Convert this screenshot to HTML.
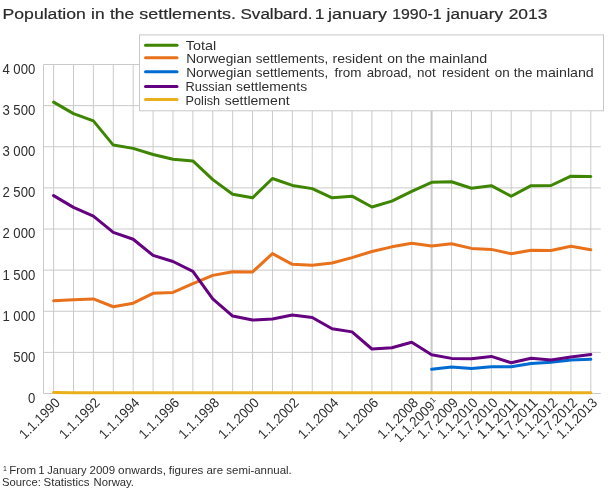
<!DOCTYPE html>
<html lang="en"><head><meta charset="utf-8"><title>Population in the settlements. Svalbard</title>
<style>html,body{margin:0;padding:0;background:#fff}svg{display:block}</style></head>
<body>
<svg width="610" height="488" viewBox="0 0 610 488" font-family="'Liberation Sans', Arial, sans-serif" fill="#2e2e2e">
<rect width="610" height="488" fill="#ffffff"/>
<path d="M43.5 64.50 H600.8 M43.5 105.62 H600.8 M43.5 146.75 H600.8 M43.5 187.88 H600.8 M43.5 229.00 H600.8 M43.5 270.12 H600.8 M43.5 311.25 H600.8 M43.5 352.38 H600.8 M43.5 393.50 H600.8 M53.60 64.5 V393.5 M73.50 64.5 V393.5 M93.39 64.5 V393.5 M113.29 64.5 V393.5 M133.18 64.5 V393.5 M153.08 64.5 V393.5 M172.98 64.5 V393.5 M192.87 64.5 V393.5 M212.77 64.5 V393.5 M232.66 64.5 V393.5 M252.56 64.5 V393.5 M272.46 64.5 V393.5 M292.35 64.5 V393.5 M312.25 64.5 V393.5 M332.14 64.5 V393.5 M352.04 64.5 V393.5 M371.94 64.5 V393.5 M391.83 64.5 V393.5 M411.73 64.5 V393.5 M451.52 64.5 V393.5 M471.42 64.5 V393.5 M491.31 64.5 V393.5 M511.21 64.5 V393.5 M531.10 64.5 V393.5 M551.00 64.5 V393.5 M570.90 64.5 V393.5 M590.79 64.5 V393.5 M43.5 64.5 V393.5" stroke="#cacaca" stroke-width="1" fill="none"/>
<path d="M431.62 64.5 V393.5" stroke="#c8c8c8" stroke-width="2" fill="none"/>
<path d="M53.60 102.17 L73.50 113.60 L93.39 120.92 L113.29 145.10 L133.18 148.39 L153.08 154.48 L172.98 159.33 L192.87 160.90 L212.77 179.65 L232.66 194.21 L252.56 197.83 L272.46 178.50 L292.35 185.41 L312.25 188.62 L332.14 197.83 L352.04 196.18 L371.94 207.04 L391.83 201.12 L411.73 191.33 L431.62 182.28 L451.52 181.71 L471.42 188.20 L491.31 185.65 L511.21 196.26 L531.10 185.65 L551.00 185.49 L570.90 176.20 L590.79 176.52" stroke="#3e8601" stroke-width="3" fill="none" stroke-linejoin="round" stroke-linecap="round"/>
<path d="M53.60 300.80 L73.50 299.82 L93.39 298.91 L113.29 306.73 L133.18 303.19 L153.08 293.32 L172.98 292.41 L192.87 283.53 L212.77 275.39 L232.66 271.69 L252.56 271.93 L272.46 253.59 L292.35 264.37 L312.25 265.19 L332.14 263.05 L352.04 257.62 L371.94 251.54 L391.83 246.85 L411.73 243.31 L431.62 246.03 L451.52 243.72 L471.42 248.41 L491.31 249.40 L511.21 253.67 L531.10 250.22 L551.00 250.55 L570.90 246.19 L590.79 249.81" stroke="#e9711c" stroke-width="3" fill="none" stroke-linejoin="round" stroke-linecap="round"/>
<path d="M431.62 369.24 L451.52 367.02 L471.42 368.41 L491.31 366.69 L511.21 366.85 L531.10 363.40 L551.00 362.33 L570.90 359.94 L590.79 359.37" stroke="#006cd1" stroke-width="3" fill="none" stroke-linejoin="round" stroke-linecap="round"/>
<path d="M53.60 195.61 L73.50 207.37 L93.39 216.17 L113.29 232.37 L133.18 239.28 L153.08 255.40 L172.98 261.49 L192.87 271.28 L212.77 298.91 L232.66 316.02 L252.56 320.05 L272.46 319.06 L292.35 315.03 L312.25 317.50 L332.14 328.77 L352.04 331.89 L371.94 349.00 L391.83 347.77 L411.73 342.26 L431.62 354.84 L451.52 358.38 L471.42 358.79 L491.31 356.41 L511.21 362.74 L531.10 358.30 L551.00 359.94 L570.90 356.90 L590.79 354.43" stroke="#650080" stroke-width="3" fill="none" stroke-linejoin="round" stroke-linecap="round"/>
<path d="M53.60 392.51 L73.50 392.68 L93.39 392.68 L113.29 392.68 L133.18 392.68 L153.08 392.68 L172.98 392.68 L192.87 392.68 L212.77 392.68 L232.66 392.68 L252.56 392.68 L272.46 392.68 L292.35 392.68 L312.25 392.68 L332.14 392.68 L352.04 392.68 L371.94 392.68 L391.83 392.84 L411.73 392.68 L431.62 392.68 L451.52 392.68 L471.42 392.68 L491.31 392.68 L511.21 392.84 L531.10 392.68 L551.00 392.68 L570.90 392.68 L590.79 392.68" stroke="#e9b01c" stroke-width="3" fill="none" stroke-linejoin="round" stroke-linecap="round"/>
<text x="2.4" y="73.9" font-size="14" textLength="32.9" lengthAdjust="spacingAndGlyphs">4 000</text>
<text x="2.4" y="115.0" font-size="14" textLength="32.9" lengthAdjust="spacingAndGlyphs">3 500</text>
<text x="2.4" y="156.1" font-size="14" textLength="32.9" lengthAdjust="spacingAndGlyphs">3 000</text>
<text x="2.4" y="197.3" font-size="14" textLength="32.9" lengthAdjust="spacingAndGlyphs">2 500</text>
<text x="2.4" y="238.4" font-size="14" textLength="32.9" lengthAdjust="spacingAndGlyphs">2 000</text>
<text x="2.4" y="279.5" font-size="14" textLength="32.9" lengthAdjust="spacingAndGlyphs">1 500</text>
<text x="2.4" y="320.6" font-size="14" textLength="32.9" lengthAdjust="spacingAndGlyphs">1 000</text>
<text x="13.3" y="361.8" font-size="14" textLength="22.0" lengthAdjust="spacingAndGlyphs">500</text>
<text x="28.0" y="402.9" font-size="14" textLength="7.3" lengthAdjust="spacingAndGlyphs">0</text>
<text transform="translate(60.90 403.60) rotate(-45)" x="-51" font-size="13.8" textLength="51" lengthAdjust="spacingAndGlyphs">1.1.1990</text>
<text transform="translate(100.69 403.60) rotate(-45)" x="-51" font-size="13.8" textLength="51" lengthAdjust="spacingAndGlyphs">1.1.1992</text>
<text transform="translate(140.48 403.60) rotate(-45)" x="-51" font-size="13.8" textLength="51" lengthAdjust="spacingAndGlyphs">1.1.1994</text>
<text transform="translate(180.28 403.60) rotate(-45)" x="-51" font-size="13.8" textLength="51" lengthAdjust="spacingAndGlyphs">1.1.1996</text>
<text transform="translate(220.07 403.60) rotate(-45)" x="-51" font-size="13.8" textLength="51" lengthAdjust="spacingAndGlyphs">1.1.1998</text>
<text transform="translate(259.86 403.60) rotate(-45)" x="-51" font-size="13.8" textLength="51" lengthAdjust="spacingAndGlyphs">1.1.2000</text>
<text transform="translate(299.65 403.60) rotate(-45)" x="-51" font-size="13.8" textLength="51" lengthAdjust="spacingAndGlyphs">1.1.2002</text>
<text transform="translate(339.44 403.60) rotate(-45)" x="-51" font-size="13.8" textLength="51" lengthAdjust="spacingAndGlyphs">1.1.2004</text>
<text transform="translate(379.24 403.60) rotate(-45)" x="-51" font-size="13.8" textLength="51" lengthAdjust="spacingAndGlyphs">1.1.2006</text>
<text transform="translate(419.03 403.60) rotate(-45)" x="-51" font-size="13.8" textLength="51" lengthAdjust="spacingAndGlyphs">1.1.2008</text>
<g transform="translate(438.92 403.60) rotate(-45)"> <text x="-55.6" y="0" font-size="13.8" textLength="51" lengthAdjust="spacingAndGlyphs">1.1.2009</text><text x="0.5" y="-4.6" font-size="8" text-anchor="end">1</text></g>
<text transform="translate(458.82 403.60) rotate(-45)" x="-51" font-size="13.8" textLength="51" lengthAdjust="spacingAndGlyphs">1.7.2009</text>
<text transform="translate(478.72 403.60) rotate(-45)" x="-51" font-size="13.8" textLength="51" lengthAdjust="spacingAndGlyphs">1.1.2010</text>
<text transform="translate(498.61 403.60) rotate(-45)" x="-51" font-size="13.8" textLength="51" lengthAdjust="spacingAndGlyphs">1.7.2010</text>
<text transform="translate(518.51 403.60) rotate(-45)" x="-51" font-size="13.8" textLength="51" lengthAdjust="spacingAndGlyphs">1.1.2011</text>
<text transform="translate(538.40 403.60) rotate(-45)" x="-51" font-size="13.8" textLength="51" lengthAdjust="spacingAndGlyphs">1.7.2011</text>
<text transform="translate(558.30 403.60) rotate(-45)" x="-51" font-size="13.8" textLength="51" lengthAdjust="spacingAndGlyphs">1.1.2012</text>
<text transform="translate(578.20 403.60) rotate(-45)" x="-51" font-size="13.8" textLength="51" lengthAdjust="spacingAndGlyphs">1.7.2012</text>
<text transform="translate(598.09 403.60) rotate(-45)" x="-51" font-size="13.8" textLength="51" lengthAdjust="spacingAndGlyphs">1.1.2013</text>
<rect x="139.5" y="34.9" width="464" height="75.9" fill="#ffffff" stroke="#c8c8c8" stroke-width="1"/>
<path d="M145.5 45.20 H177" stroke="#3e8601" stroke-width="3" stroke-linecap="round"/>
<path d="M145.5 57.80 H177" stroke="#e9711c" stroke-width="3" stroke-linecap="round"/>
<path d="M145.5 71.70 H177" stroke="#006cd1" stroke-width="3" stroke-linecap="round"/>
<path d="M145.5 86.50 H177" stroke="#650080" stroke-width="3" stroke-linecap="round"/>
<path d="M145.5 99.45 H177" stroke="#e9b01c" stroke-width="3" stroke-linecap="round"/>
<text x="3" y="470.5" font-size="7">1</text>
<text y="19.00" font-size="15.5" fill="#2a2a2a" stroke="#2a2a2a" stroke-width="0.2"><tspan x="2.59" textLength="83.24" lengthAdjust="spacingAndGlyphs">Population</tspan> <tspan x="91.05" textLength="13.54" lengthAdjust="spacingAndGlyphs">in</tspan> <tspan x="109.93" textLength="24.19" lengthAdjust="spacingAndGlyphs">the</tspan> <tspan x="139.25" textLength="96.62" lengthAdjust="spacingAndGlyphs">settlements.</tspan> <tspan x="240.53" textLength="71.96" lengthAdjust="spacingAndGlyphs">Svalbard.</tspan> <tspan x="314.81" textLength="9.68" lengthAdjust="spacingAndGlyphs">1</tspan> <tspan x="328.05" textLength="58.85" lengthAdjust="spacingAndGlyphs">january</tspan> <tspan x="392.21" textLength="49.32" lengthAdjust="spacingAndGlyphs">1990-1</tspan> <tspan x="446.63" textLength="56.37" lengthAdjust="spacingAndGlyphs">january</tspan> <tspan x="508.67" textLength="38.71" lengthAdjust="spacingAndGlyphs">2013</tspan></text>
<text y="50.00" font-size="13.2" ><tspan x="185.81" textLength="30.28" lengthAdjust="spacingAndGlyphs">Total</tspan></text>
<text y="62.75" font-size="13.2" ><tspan x="186.20" textLength="65.43" lengthAdjust="spacingAndGlyphs">Norwegian</tspan> <tspan x="255.76" textLength="72.42" lengthAdjust="spacingAndGlyphs">settlements,</tspan> <tspan x="332.59" textLength="49.85" lengthAdjust="spacingAndGlyphs">resident</tspan> <tspan x="387.19" textLength="15.41" lengthAdjust="spacingAndGlyphs">on</tspan> <tspan x="406.00" textLength="19.25" lengthAdjust="spacingAndGlyphs">the</tspan> <tspan x="429.27" textLength="58.00" lengthAdjust="spacingAndGlyphs">mainland</tspan></text>
<text y="76.60" font-size="13.2" ><tspan x="186.20" textLength="65.43" lengthAdjust="spacingAndGlyphs">Norwegian</tspan> <tspan x="255.76" textLength="72.42" lengthAdjust="spacingAndGlyphs">settlements,</tspan> <tspan x="334.47" textLength="26.86" lengthAdjust="spacingAndGlyphs">from</tspan> <tspan x="366.67" textLength="45.00" lengthAdjust="spacingAndGlyphs">abroad,</tspan> <tspan x="417.10" textLength="18.67" lengthAdjust="spacingAndGlyphs">not</tspan> <tspan x="442.14" textLength="47.20" lengthAdjust="spacingAndGlyphs">resident</tspan> <tspan x="494.72" textLength="14.94" lengthAdjust="spacingAndGlyphs">on</tspan> <tspan x="513.69" textLength="18.67" lengthAdjust="spacingAndGlyphs">the</tspan> <tspan x="536.08" textLength="57.69" lengthAdjust="spacingAndGlyphs">mainland</tspan></text>
<text y="90.70" font-size="13.2" ><tspan x="185.57" textLength="46.31" lengthAdjust="spacingAndGlyphs">Russian</tspan> <tspan x="236.05" textLength="71.03" lengthAdjust="spacingAndGlyphs">settlements</tspan></text>
<text y="104.60" font-size="13.2" ><tspan x="185.59" textLength="34.49" lengthAdjust="spacingAndGlyphs">Polish</tspan> <tspan x="224.75" textLength="64.89" lengthAdjust="spacingAndGlyphs">settlement</tspan></text>
<text y="474.20" font-size="11" ><tspan x="9.20" textLength="26.80" lengthAdjust="spacingAndGlyphs">From</tspan> <tspan x="38.24" textLength="6.39" lengthAdjust="spacingAndGlyphs">1</tspan> <tspan x="47.23" textLength="39.37" lengthAdjust="spacingAndGlyphs">January</tspan> <tspan x="89.50" textLength="25.55" lengthAdjust="spacingAndGlyphs">2009</tspan> <tspan x="118.13" textLength="47.81" lengthAdjust="spacingAndGlyphs">onwards,</tspan> <tspan x="168.78" textLength="34.62" lengthAdjust="spacingAndGlyphs">figures</tspan> <tspan x="206.46" textLength="16.60" lengthAdjust="spacingAndGlyphs">are</tspan> <tspan x="226.31" textLength="65.49" lengthAdjust="spacingAndGlyphs">semi-annual.</tspan></text>
<text y="485.80" font-size="11" ><tspan x="2.09" textLength="38.80" lengthAdjust="spacingAndGlyphs">Source:</tspan> <tspan x="43.58" textLength="46.02" lengthAdjust="spacingAndGlyphs">Statistics</tspan> <tspan x="93.50" textLength="40.49" lengthAdjust="spacingAndGlyphs">Norway.</tspan></text>
</svg>
</body></html>
